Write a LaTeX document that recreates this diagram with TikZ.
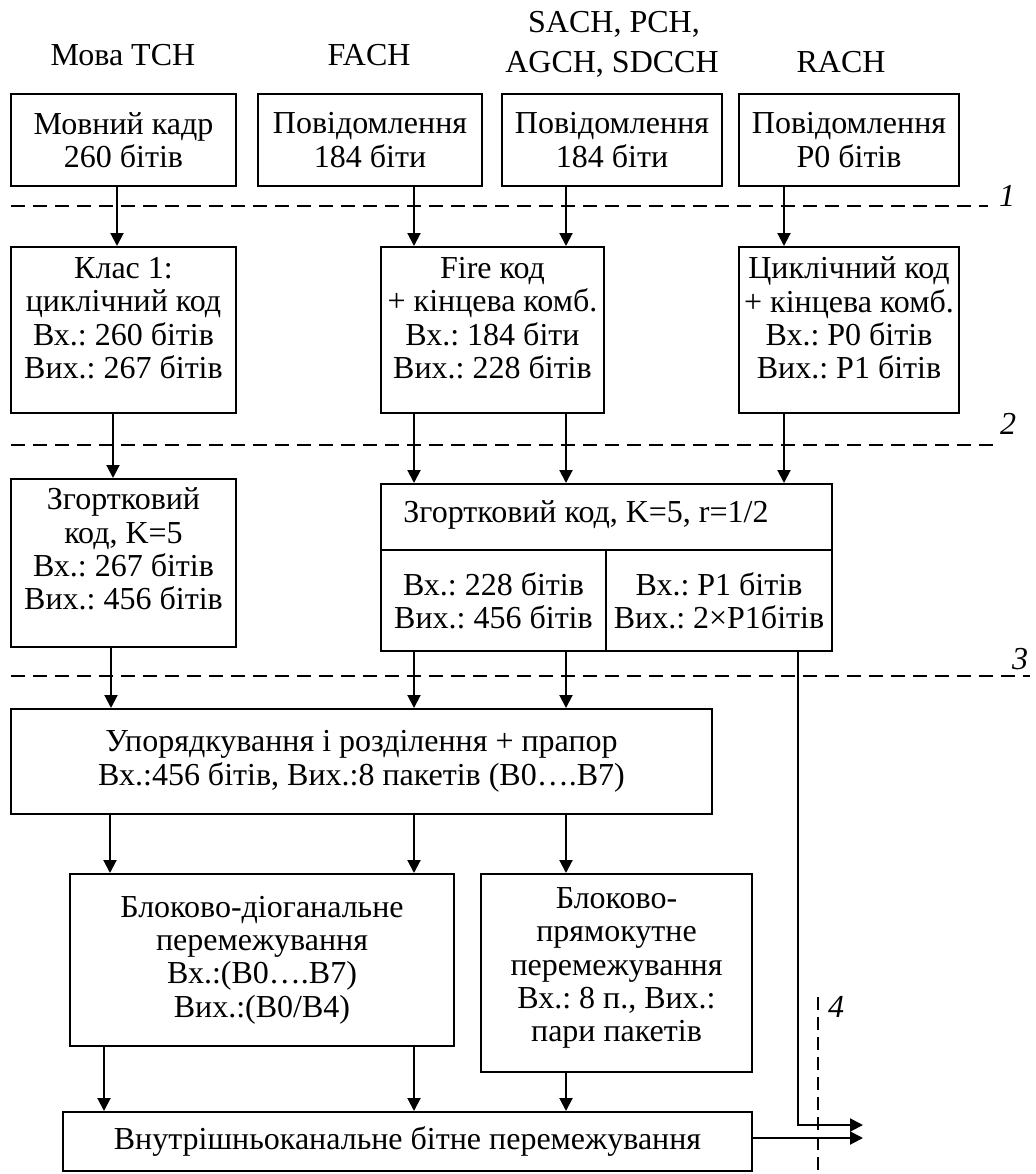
\documentclass[tikz,border=0pt]{standalone}
\usepackage{fontspec}
\setmainfont{Liberation Serif}
\usetikzlibrary{arrows.meta}
\frenchspacing

\begin{document}
\begin{tikzpicture}[x=0.5pt,y=-0.5pt,
  every node/.style={font=\fontsize{16}{16.7}\selectfont\frenchspacing},
  blk/.style={draw, line width=1pt, inner sep=0pt, align=center},
  txt/.style={inner sep=0pt, align=center},
  arr/.style={line width=1pt, -{Triangle[length=6.5pt,width=6.5pt]}},
  sep/.style={line width=0.8pt, dash pattern=on 7pt off 4pt},
  vsep/.style={line width=0.7pt, dash pattern=on 6.5pt off 3.5pt},
  num/.style={font=\fontsize{16}{16.7}\selectfont\itshape, inner sep=0pt}]
\useasboundingbox (0,0) rectangle (1035,1174);

% channel names
\node[txt, anchor=base] (h1) at (123,65) {Мова TCH};
\node[txt, anchor=base] (h2) at (369,65) {FACH};
\node[txt, anchor=base] (h3a) at (614,32) {SACH, PCH,};
\node[txt, anchor=base] (h3b) at (612,72) {AGCH, SDCCH};
\node[txt, anchor=base] (h4) at (841,72) {RACH};

% input blocks
\node[blk, minimum width=112.5pt, minimum height=46pt] (b1) at (123.5,140) {Мовний кадр\\260 бітів};
\node[blk, minimum width=112pt, minimum height=46pt] (b2) at (370,140) {Повідомлення\\184 біти};
\node[blk, minimum width=110pt, minimum height=46pt] (b3) at (612,140) {Повідомлення\\184 біти};
\node[blk, minimum width=110pt, minimum height=46pt] (b4) at (849,140) {Повідомлення\\P0 бітів};

% block coding (text set a little above the box centre)
\node[blk, minimum width=112.5pt, minimum height=83pt] (c1) at (123.5,330) {};
\node[txt, yshift=6pt] (c1t) at (c1) {Клас 1:\\циклічний код\\Вх.: 260 бітів\\Вих.: 267 бітів};
\node[blk, minimum width=111.5pt, minimum height=83pt] (c2) at (492.5,330) {};
\node[txt, yshift=6pt] (c2t) at (c2) {Fire код\\+ кінцева комб.\\Вх.: 184 біти\\Вих.: 228 бітів};
\node[blk, minimum width=110pt, minimum height=83pt] (c3) at (849,330) {};
\node[txt, yshift=6pt] (c3t) at (c3) {Циклічний код\\+ кінцева комб.\\Вх.: P0 бітів\\Вих.: P1 бітів};

% convolutional coding
\node[blk, minimum width=112.5pt, minimum height=84pt] (d1) at (123.5,563) {};
\node[txt, yshift=7pt] (d1t) at (d1) {Згортковий\\код, K=5\\Вх.: 267 бітів\\Вих.: 456 бітів};
\node[blk, minimum width=225.5pt, minimum height=33pt] (d2top) at (606.5,517) {};
\node[txt] (d2title) at (586,515) {Згортковий код, K=5, r=1/2};
\node[blk, minimum width=112.5pt, minimum height=50.5pt] (d2l) at (493.5,600.5) {Вх.: 228 бітів\\Вих.: 456 бітів};
\node[blk, minimum width=113pt, minimum height=50.5pt] (d2r) at (719,600.5) {Вх.: P1 бітів\\Вих.: 2×P1бітів};

% reordering and interleaving
\node[blk, minimum width=350.5pt, minimum height=52.5pt] (e) at (361.5,761.5) {Упорядкування і розділення + прапор\\Вх.:456 бітів, Вих.:8 пакетів (B0….B7)};
\node[blk, minimum width=192pt, minimum height=86pt] (f1) at (262,960) {Блоково-діоганальне\\перемежування\\Вх.:(B0….B7)\\Вих.:(B0/B4)};
\node[blk, minimum width=135.5pt, minimum height=99pt] (f2) at (616.5,973) {};
\node[txt, yshift=2.5pt] (f2t) at (f2) {Блоково-\\прямокутне\\перемежування\\Вх.: 8 п., Вих.:\\пари пакетів};
\node[blk, minimum width=344.5pt, minimum height=29.5pt] (g) at (407.5,1141.5) {Внутрішньоканальне бітне перемежування};

% connector columns
\coordinate (xa) at (117,0);
\coordinate (xb) at (113,0);
\coordinate (xc) at (111,0);
\coordinate (xd) at (110,0);
\coordinate (xe) at (104,0);
\coordinate (xm) at (414,0);
\coordinate (xr) at (566,0);
\coordinate (xq) at (784,0);
\coordinate (bend) at (798,1125);
\coordinate (outB) at (863,1125);
\coordinate (yOut) at (0,1138);
\coordinate (outA) at (863,1138);

% connectors
\draw[arr] (b1.south -| xa) -- (c1.north -| xa);
\draw[arr] (b2.south -| xm) -- (c2.north -| xm);
\draw[arr] (b3.south -| xr) -- (c2.north -| xr);
\draw[arr] (b4.south -| xq) -- (c3.north -| xq);
\draw[arr] (c1.south -| xb) -- (d1.north -| xb);
\draw[arr] (c2.south -| xm) -- (d2top.north -| xm);
\draw[arr] (c2.south -| xr) -- (d2top.north -| xr);
\draw[arr] (c3.south -| xq) -- (d2top.north -| xq);
\draw[arr] (d1.south -| xc) -- (e.north -| xc);
\draw[arr] (d2l.south -| xm) -- (e.north -| xm);
\draw[arr] (d2l.south -| xr) -- (e.north -| xr);
\draw[arr] (e.south -| xd) -- (f1.north -| xd);
\draw[arr] (e.south -| xm) -- (f1.north -| xm);
\draw[arr] (e.south -| xr) -- (f2.north -| xr);
\draw[arr] (f1.south -| xe) -- (g.north -| xe);
\draw[arr] (f1.south -| xm) -- (g.north -| xm);
\draw[arr] (f2.south -| xr) -- (g.north -| xr);
\draw[arr] (g.east |- yOut) -- (outA);
\draw[arr] (d2r.south -| bend) -- (bend) -- (outB);

% level separators
\draw[sep] (11,206) -- (988,206);
\node[num] (n1) at (1007,196) {1};
\draw[sep] (11,445) -- (998,445);
\node[num] (n2) at (1008,424) {2};
\draw[sep] (11,676) -- (1030,676);
\node[num] (n3) at (1020,659) {3};
\draw[vsep] (818,997) -- (818,1174);
\node[num] (n4) at (836,1007) {4};
\end{tikzpicture}
\end{document}
